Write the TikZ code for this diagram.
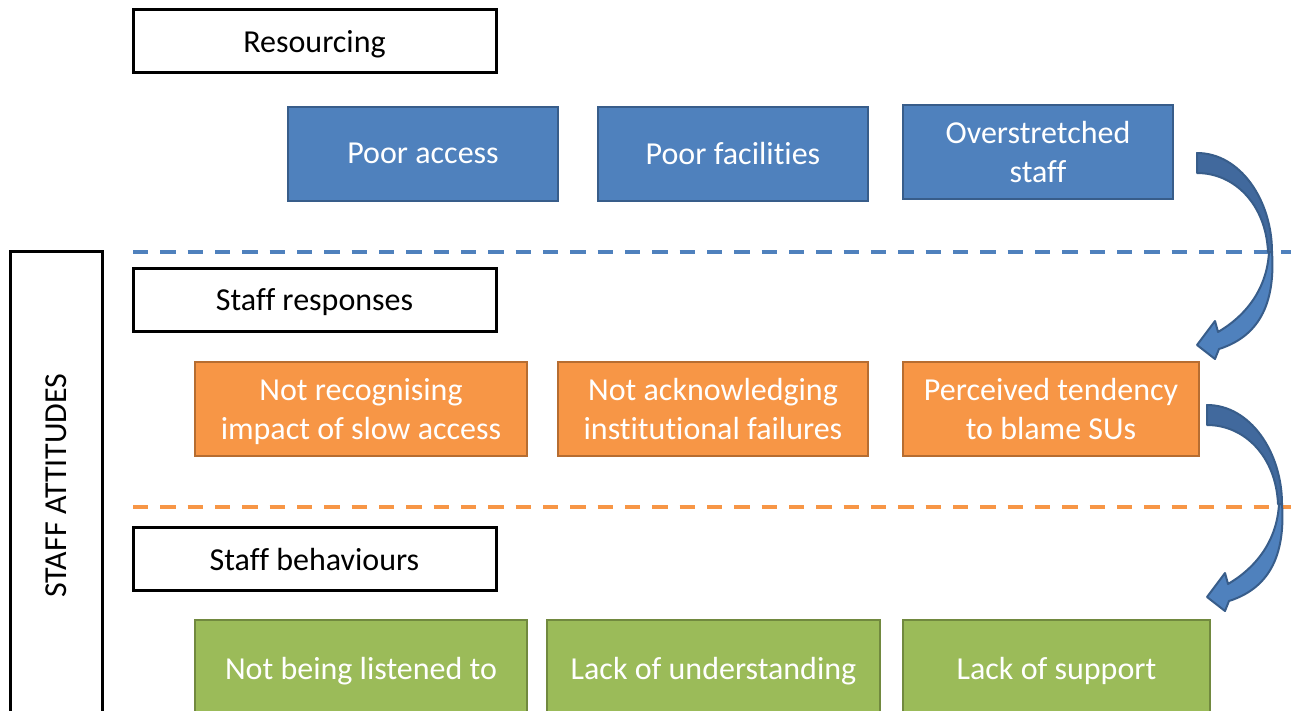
\documentclass[tikz,border=0pt]{standalone}
\usepackage{fontspec}
\setmainfont{Carlito}[Ligatures=NoCommon]
\definecolor{blueF}{HTML}{4F81BD}
\definecolor{blueD}{HTML}{385D8A}
\definecolor{blueB}{HTML}{41699D}
\definecolor{orF}{HTML}{F79646}
\definecolor{orD}{HTML}{B66D31}
\definecolor{grF}{HTML}{9BBB59}
\definecolor{grD}{HTML}{71893F}

\tikzset{
  txt/.style={font=\fontsize{24}{29}\selectfont, align=center, inner sep=0pt,
    text depth=0pt},
  lbl/.style={txt, draw=black, line width=2.25pt, fill=white,
    minimum width=272.25pt, minimum height=47.25pt},
  cbox/.style={txt, line width=1.5pt, text=white, minimum height=70.5pt},
  bluebox/.style={cbox, fill=blueF, draw=blueD, minimum width=202.5pt},
  orbox/.style={cbox, fill=orF, draw=orD},
  grbox/.style={cbox, fill=grF, draw=grD, minimum height=72pt},
  sep/.style={line width=2.4pt, dash pattern=on 11.5pt off 9pt},
  bandback/.style={fill=blueB, draw=blueD, line width=1.5pt, line join=round},
  bandfront/.style={fill=blueF, draw=blueD, line width=1.5pt, line join=round},
}

% curved block arrow, drawn from its top-left corner
\newcommand\bendarrow[1]{%
  \begin{scope}[shift={#1}]
    \path[bandfront] (75,99) .. controls (78,145) and (66,182) .. (22,196)
      -- (18,206) -- (0,192) -- (18,168) -- (21,179)
      .. controls (50,162) and (70,135) .. (72,99) -- cycle;
    \path[bandback] (0,0) .. controls (43,0) and (75,47) .. (75,99)
      -- (71,99) .. controls (69,52) and (38,20) .. (0,20) -- cycle;
  \end{scope}}

\begin{document}
\begin{tikzpicture}[x=0.75pt, y=-0.75pt]
  \clip (0,0) rectangle (1291,710);
  \fill[white] (0,0) rectangle (1291,710);

  % side label
  \node[txt, draw=black, line width=2.25pt, rotate=90,
        minimum width=351.75pt, minimum height=69pt] (att) at (56,485.5) {STAFF ATTITUDES};

  % separators
  \draw[sep, blueF] (133,252) -- (1291,252);
  \draw[sep, orF] (133,507) -- (1291,507);

  % resourcing
  \node[lbl] (res) at (314.5,41.5) {Resourcing};
  \node[bluebox] (pa) at (423,153.5) {Poor access};
  \node[bluebox] (pf) at (733,153.5) {Poor facilities};
  \node[bluebox] (os) at (1038,152) {Overstretched\\staff};

  % staff responses
  \node[lbl] (sr) at (314.5,299.5) {Staff responses};
  \node[orbox, minimum width=249pt] (o1) at (361,409) {Not recognising\\impact of slow access};
  \node[orbox, minimum width=232.5pt] (o2) at (713,409) {Not acknowledging\\institutional failures};
  \node[orbox, minimum width=222pt] (o3) at (1051,409) {Perceived tendency\\to blame SUs};

  % staff behaviours
  \node[lbl] (sb) at (314.5,559) {Staff behaviours};
  \node[grbox, minimum width=249pt] (g1) at (361,668) {Not being listened to};
  \node[grbox, minimum width=249.75pt] (g2) at (713.5,668) {Lack of understanding};
  \node[grbox, minimum width=230.25pt] (g3) at (1056.5,668) {Lack of support};

  % links between the levels
  \bendarrow{(1197,153)}
  \bendarrow{(1207,405)}
\end{tikzpicture}
\end{document}
